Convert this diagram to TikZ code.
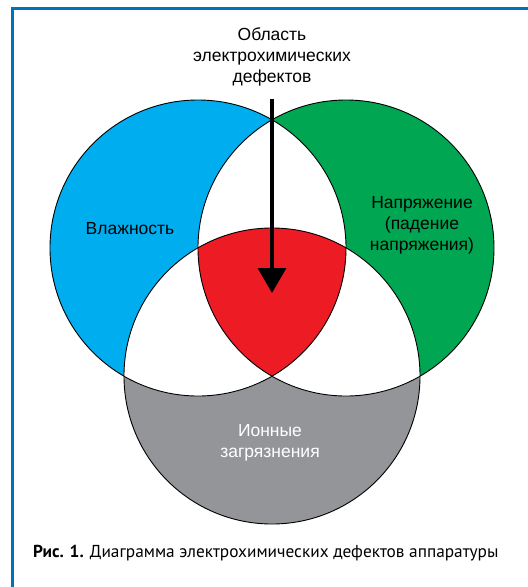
\documentclass[tikz,border=0pt]{standalone}
\usepackage{fontspec}
\setmainfont{Liberation Sans}
\newfontfamily\capfont{PT Sans}
\usetikzlibrary{arrows.meta}
\definecolor{vlblue}{RGB}{0,174,239}
\definecolor{naprgreen}{RGB}{0,166,81}
\definecolor{defred}{RGB}{237,28,36}
\definecolor{iongray}{RGB}{147,149,152}
\definecolor{frameblue}{RGB}{0,114,188}
\begin{document}
\begin{tikzpicture}[x=1pt,y=-1pt,
  txt/.style={align=center,font=\fontsize{17.5}{21}\selectfont},
  vennring/.style={draw=black,line width=0.9pt}]
\useasboundingbox (0,0) rectangle (528,587);
% frame
\draw[frameblue,line width=3pt] (12,587) -- (12,8) -- (528,8);
% circle centres
\coordinate (cvl) at (198,248);
\coordinate (cnapr) at (346,248);
\coordinate (cion) at (272,376);
\fill[vlblue] (cvl) circle (148pt);
\fill[naprgreen] (cnapr) circle (148pt);
\fill[iongray] (cion) circle (148pt);
% pairwise overlaps white
\begin{scope}
\clip (cvl) circle (148pt);
\fill[white] (cnapr) circle (148pt);
\fill[white] (cion) circle (148pt);
\end{scope}
\begin{scope}
\clip (cnapr) circle (148pt);
\fill[white] (cion) circle (148pt);
\end{scope}
% all three
\begin{scope}
\clip (cvl) circle (148pt);
\clip (cnapr) circle (148pt);
\fill[defred] (cion) circle (148pt);
\end{scope}
\draw[vennring] (cvl) circle (148pt);
\draw[vennring] (cnapr) circle (148pt);
\draw[vennring] (cion) circle (148pt);
% labels
\node[txt] (vlazh) at (130,229) {Влажность};
\node[txt] (napr) at (422,225) {Напряжение\\(падение\\напряжения)};
\node[txt,text=white] (ion) at (270,443) {Ионные\\загрязнения};
\node[txt] (oblast) at (272,57) {Область\\электрохимических\\дефектов};
\coordinate (tip) at (272,293);
\draw[line width=3.5pt,shorten <=9pt,-{Triangle[length=25pt,width=28pt]}] (oblast.south) -- (tip);
% caption
\node[anchor=west,inner sep=0pt,font=\capfont\fontsize{17.3}{21}\selectfont] (caption) at (33,553)
  {\textbf{Рис. 1.} Диаграмма электрохимических дефектов аппаратуры};
\end{tikzpicture}
\end{document}
